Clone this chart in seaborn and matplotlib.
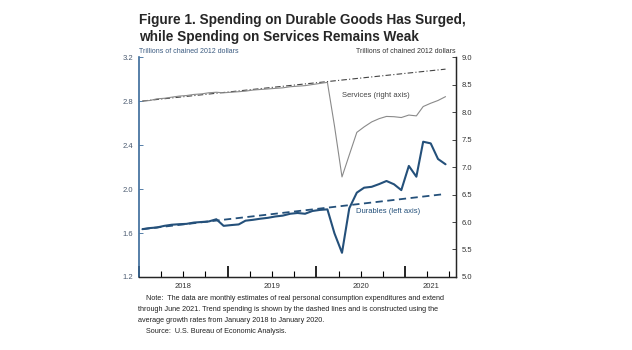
import matplotlib
matplotlib.use("Agg")
import matplotlib.pyplot as plt
import matplotlib.dates as mdates
import pandas as pd
import seaborn as sns

# monthly data, Jan 2018 - Jun 2021 (trillions of chained 2012 dollars)
months = pd.date_range("2018-01-01", "2021-06-01", freq="MS") + pd.Timedelta(days=14)

durables = [1.635, 1.645, 1.650, 1.665, 1.675, 1.680, 1.683, 1.695, 1.700, 1.705,
            1.725, 1.665, 1.672, 1.678, 1.712, 1.720, 1.730, 1.738, 1.750, 1.758,
            1.775, 1.782, 1.775, 1.800, 1.810, 1.815, 1.597, 1.420, 1.825, 1.967,
            2.012, 2.020, 2.045, 2.073, 2.043, 1.990, 2.210, 2.112, 2.430, 2.415,
            2.273, 2.225]

services = [8.20, 8.21, 8.24, 8.25, 8.27, 8.29, 8.30, 8.32, 8.33, 8.35,
            8.36, 8.35, 8.36, 8.37, 8.38, 8.40, 8.41, 8.42, 8.43, 8.44,
            8.46, 8.47, 8.48, 8.50, 8.52, 8.54, 7.75, 6.82, 7.22, 7.63,
            7.73, 7.82, 7.88, 7.92, 7.915, 7.90, 7.945, 7.93, 8.10, 8.16,
            8.21, 8.28]

# trend lines (straight, read at both ends)
trend_dates = pd.to_datetime(["2018-01-15", "2021-06-15"])
durables_trend = [1.635, 1.955]
services_trend = [8.20, 8.78]

df = pd.DataFrame({"date": months, "durables": durables, "services": services})
trend = pd.DataFrame({"date": trend_dates, "durables": durables_trend, "services": services_trend})

sns.set_style("ticks")
plt.rcParams["font.family"] = ["Liberation Sans", "DejaVu Sans"]

blue = "#24507a"
fig = plt.figure(figsize=(6.32, 3.5), dpi=100)
ax = fig.add_axes([0.22, 0.2086, 0.5015, 0.6284])
ax2 = ax.twinx()

# left axis: durables
sns.lineplot(data=trend, x="date", y="durables", ax=ax, color=blue, lw=1.3,
             linestyle=(0, (4, 2.5)))
sns.lineplot(data=df, x="date", y="durables", ax=ax, color=blue, lw=1.5)
# right axis: services
sns.lineplot(data=trend, x="date", y="services", ax=ax2, color="#444444", lw=0.8,
             linestyle=(0, (5, 2, 1, 2)))
sns.lineplot(data=df, x="date", y="services", ax=ax2, color="#8a8a8a", lw=0.8)

ax.set_xlim(pd.Timestamp("2018-01-01"), pd.Timestamp("2021-07-28"))
ax.set_ylim(1.2, 3.2)
ax2.set_ylim(5.0, 9.0)
ax.set_yticks([1.2, 1.6, 2.0, 2.4, 2.8, 3.2])
ax2.set_yticks([5.0, 5.5, 6.0, 6.5, 7.0, 7.5, 8.0, 8.5, 9.0])
ax.set_xlabel("")
ax.set_ylabel("")
ax2.set_ylabel("")

# x ticks: years as majors, quarters as minors, labels centred in each year
ax.xaxis.set_major_locator(mdates.YearLocator())
ax.xaxis.set_minor_locator(mdates.MonthLocator(bymonth=[4, 7, 10]))
ax.xaxis.set_major_formatter(plt.NullFormatter())
ax.tick_params(axis="x", which="major", direction="in", length=8, width=1.2, color="black")
ax.tick_params(axis="x", which="minor", direction="in", length=4, width=0.8, color="black")
for yr, mid in [("2018", "2018-07-02"), ("2019", "2019-07-02"),
                ("2020", "2020-07-02"), ("2021", "2021-04-15")]:
    ax.text(pd.Timestamp(mid), -0.028, yr, transform=ax.get_xaxis_transform(),
            ha="center", va="top", fontsize=5.5, color="#333333")

ax.tick_params(axis="y", direction="in", length=3, width=0.6, labelsize=5.5,
               labelcolor="#4a5a70", color="#3a6a9a", pad=4)
ax2.tick_params(axis="y", direction="in", length=3, width=0.6, labelsize=5.5,
                labelcolor="#333333", pad=4)

for a in (ax, ax2):
    a.spines["top"].set_visible(False)
ax.spines["left"].set_color("#3a6a9a")
ax.spines["left"].set_linewidth(1.2)
ax2.spines["left"].set_visible(False)
ax2.spines["right"].set_linewidth(1.0)
ax.spines["bottom"].set_linewidth(1.0)

ax.text(0.0, 1.01, "Trillions of chained 2012 dollars", transform=ax.transAxes,
        ha="left", va="bottom", fontsize=5, color="#3a5a80")
ax.text(1.0, 1.01, "Trillions of chained 2012 dollars", transform=ax.transAxes,
        ha="right", va="bottom", fontsize=5, color="#333333")

ax2.text(pd.Timestamp("2020-09-01"), 8.3, "Services (right axis)", ha="center",
         va="center", fontsize=5.5, color="#444444")
ax.text(pd.Timestamp("2020-10-20"), 1.80, "Durables (left axis)", ha="center",
        va="center", fontsize=5.5, color=blue)

fig.text(0.22, 0.962, "Figure 1. Spending on Durable Goods Has Surged,\n"
         "while Spending on Services Remains Weak", ha="left", va="top",
         fontsize=9.8, fontweight="bold", linespacing=1.2)

note = ("    Note:  The data are monthly estimates of real personal consumption expenditures and extend\n"
        "through June 2021. Trend spending is shown by the dashed lines and is constructed using the\n"
        "average growth rates from January 2018 to January 2020.\n"
        "    Source:  U.S. Bureau of Economic Analysis.")
fig.text(0.218, 0.158, note, ha="left", va="top", fontsize=5.2, linespacing=1.8,
         color="#222222")

fig.savefig("out.png", dpi=100)
